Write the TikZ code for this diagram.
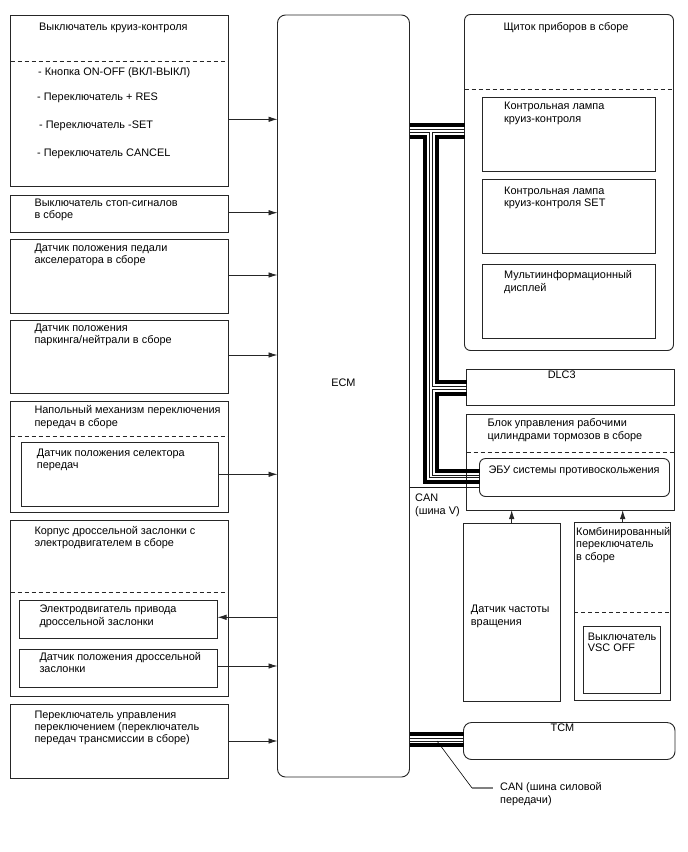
\documentclass[tikz,border=0pt]{standalone}
\usepackage{fontspec}
\setmainfont{Liberation Sans}
\usetikzlibrary{arrows.meta}
\newcommand\mlines[1]{\begin{tabular}[t]{@{}l@{}}#1\end{tabular}}
\begin{document}
\begin{tikzpicture}[x=1pt,y=-1pt,
  box/.style={draw=black!85, line width=0.9pt, inner sep=0pt, outer sep=0pt, anchor=north west},
  rbox/.style={box, rounded corners=6pt},
  txt/.style={anchor=base west, inner sep=0pt, font=\fontsize{10.9}{12.7}\selectfont},
  ctxt/.style={txt, anchor=base},
  arr/.style={-{Latex[length=9pt,width=5.5pt]}, line width=0.8pt, draw=black!85},
  dashline/.style={dash pattern=on 4pt off 3pt, line width=0.9pt, draw=black!85},
  busblk/.style={line width=4pt, draw=black},
  busthin/.style={line width=0.6pt, draw=black!90},
]
\useasboundingbox[fill=white] (0,0) rectangle (688,852);

% ---------- left column ----------
\node[box, minimum width=218pt, minimum height=171pt] (b1) at (10.5,15) {};
\draw[dashline] (b1.west |- 0,61.5) -- (b1.east |- 0,61.5);
\node[txt] (b1t) at (39,30.2) {Выключатель круиз-контроля};
\node[txt] (b1a) at (38,75.2) {- Кнопка ON-OFF (ВКЛ-ВЫКЛ)};
\node[txt] (b1b) at (37,100.2) {- Переключатель + RES};
\node[txt] (b1c) at (39,128.5) {- Переключатель -SET};
\node[txt] (b1d) at (37,156.8) {- Переключатель CANCEL};

\node[box, minimum width=218pt, minimum height=37pt] (b2) at (10.5,195) {};
\node[txt] (b2t) at (34.3,206.2) {\mlines{Выключатель стоп-сигналов\\в сборе}};

\node[box, minimum width=218pt, minimum height=73.5pt] (b3) at (10.5,239.5) {};
\node[txt] (b3t) at (34.3,251.2) {\mlines{Датчик положения педали\\акселератора в сборе}};

\node[box, minimum width=218pt, minimum height=73.5pt] (b4) at (10.5,320) {};
\node[txt] (b4t) at (34.3,331.2) {\mlines{Датчик положения\\паркинга/нейтрали в сборе}};

\node[box, minimum width=218pt, minimum height=111pt] (b5) at (10.5,401.5) {};
\draw[dashline] (b5.west |- 0,436.5) -- (b5.east |- 0,436.5);
\node[txt] (b5t) at (34.3,413.5) {\mlines{Напольный механизм переключения\\передач в сборе}};
\node[box, minimum width=196.5pt, minimum height=64pt] (b5i) at (21.5,442.5) {};
\node[txt] (b5it) at (36.7,456.2) {\mlines{Датчик положения селектора\\передач}};

\node[box, minimum width=218pt, minimum height=176.5pt] (b6) at (10.5,520) {};
\draw[dashline] (b6.west |- 0,592.5) -- (b6.east |- 0,592.5);
\node[txt] (b6t) at (34.3,534.2) {\mlines{Корпус дроссельной заслонки с\\электродвигателем в сборе}};
\node[box, minimum width=198.5pt, minimum height=38pt] (b6a) at (19,600) {};
\node[txt] (b6at) at (39.3,612.8) {\mlines{Электродвигатель привода\\дроссельной заслонки}};
\node[box, minimum width=198.5pt, minimum height=37.5pt] (b6b) at (19,649.5) {};
\node[txt] (b6bt) at (39.3,660.2) {\mlines{Датчик положения дроссельной\\заслонки}};

\node[box, minimum width=218pt, minimum height=73.5pt] (b7) at (10.5,704.5) {};
\node[txt, font=\fontsize{10.9}{12}\selectfont] (b7t) at (34.3,718.5) {\mlines{Переключатель управления\\переключением (переключатель\\передач трансмиссии в сборе)}};

% ---------- ECM ----------
\node[rbox, rounded corners=8pt, minimum width=132pt, minimum height=762pt] (ecm) at (277.5,15) {};
\node[ctxt] (ecmt) at (343.4,386) {ECM};

% ---------- right column ----------
\node[rbox, minimum width=209pt, minimum height=336pt] (cluster) at (464.5,14.5) {};
\node[txt] (clt) at (503.3,30.2) {Щиток приборов в сборе};
\draw[dashline] (cluster.west |- 0,89.5) -- (cluster.east |- 0,89.5);
\node[box, minimum width=172.5pt, minimum height=74pt] (ca) at (482.5,97.5) {};
\node[txt] (cat) at (504,109.5) {\mlines{Контрольная лампа\\круиз-контроля}};
\node[box, minimum width=172.5pt, minimum height=73.5pt] (cb) at (482.5,179.5) {};
\node[txt] (cbt) at (504,194.2) {\mlines{Контрольная лампа\\круиз-контроля SET}};
\node[box, minimum width=172.5pt, minimum height=74pt] (cc) at (482.5,264) {};
\node[txt] (cct) at (504,278.5) {\mlines{Мультиинформационный\\дисплей}};

\node[box, minimum width=208pt, minimum height=36pt] (dlc) at (466.5,369.5) {};
\node[ctxt] (dlct) at (561.7,378.5) {DLC3};

\node[box, minimum width=208pt, minimum height=96pt] (brake) at (466.5,414) {};
\node[txt] (brt) at (487.3,426.8) {\mlines{Блок управления рабочими\\цилиндрами тормозов в сборе}};
\draw[dashline] (brake.west |- 0,452.5) -- (brake.east |- 0,452.5);
\node[rbox, minimum width=190pt, minimum height=38pt] (ecu) at (479.5,458.5) {};
\node[txt] (ecut) at (488.3,473.5) {ЭБУ системы противоскольжения};

\node[box, minimum width=97pt, minimum height=178.5pt] (spd) at (463.5,523) {};
\node[txt] (spdt) at (470.7,612.8) {\mlines{Датчик частоты\\вращения}};

\node[box, minimum width=96.5pt, minimum height=178pt] (comb) at (574,522) {};
\node[txt, font=\fontsize{10.9}{12.5}\selectfont] (combt) at (576,535.2) {\mlines{Комбинированный\\переключатель\\в сборе}};
\draw[dashline] (comb.west |- 0,612.5) -- (comb.east |- 0,612.5);
\node[box, minimum width=77pt, minimum height=67pt] (vsc) at (583.5,626) {};
\node[txt, font=\fontsize{10.9}{11.5}\selectfont] (vsct) at (587.7,640.2) {\mlines{Выключатель\\VSC OFF}};

\node[rbox, rounded corners=8pt, minimum width=211.5pt, minimum height=37pt] (tcm) at (463.5,722.5) {};
\node[ctxt] (tcmt) at (562.5,731.8) {TCM};

% ---------- arrows ----------
\draw[arr] (b1.east |- 0,119.3) -- (ecm.west |- 0,119.3);
\draw[arr] (b2.east |- 0,212.7) -- (ecm.west |- 0,212.7);
\draw[arr] (b3.east |- 0,275) -- (ecm.west |- 0,275);
\draw[arr] (b4.east |- 0,355) -- (ecm.west |- 0,355);
\draw[arr] (b5i.east |- 0,474.3) -- (ecm.west |- 0,474.3);
\draw[arr] (ecm.west |- 0,617.3) -- (b6a.east |- 0,617.3);
\draw[arr] (b6b.east |- 0,666) -- (ecm.west |- 0,666);
\draw[arr] (b7.east |- 0,741) -- (ecm.west |- 0,741);
\draw[arr] (spd.north -| 511.7,0) -- (brake.south -| 511.7,0);
\draw[arr] (comb.north -| 622.7,0) -- (brake.south -| 622.7,0);

% ---------- CAN V bus ----------
\draw[busblk] (ecm.east |- 0,125) -- (cluster.west |- 0,125);
\draw[busthin] (ecm.east |- 0,129.5) -- (cluster.west |- 0,129.5);
\draw[busthin] (cluster.west |- 0,132) -| (432,386.5) -- (dlc.west |- 0,386.5);
\draw[busblk] (cluster.west |- 0,136.5) -| (436.5,382) -- (dlc.west |- 0,382);
\draw[busthin] (ecm.east |- 0,132) -| (429.5,477.5) -- (ecu.west |- 0,477.5);
\draw[busblk] (ecm.east |- 0,136.5) -| (425,482) -- (ecu.west |- 0,482);
\draw[busthin] (dlc.west |- 0,389) -| (432,475) -- (ecu.west |- 0,475);
\draw[busblk] (dlc.west |- 0,393.5) -| (436.5,470.5) -- (ecu.west |- 0,470.5);
\draw[busthin] (ecm.east |- 0,487.5) -- (ecu.west |- 0,487.5);
\node[txt] (canv) at (415,501.8) {\mlines{CAN\\(шина V)}};

% ---------- CAN power-train bus ----------
\draw[busblk] (ecm.east |- 0,733.7) -- (tcm.west |- 0,733.7);
\draw[busthin] (ecm.east |- 0,738.5) -- (tcm.west |- 0,738.5);
\draw[busthin] (ecm.east |- 0,741) -- (tcm.west |- 0,741);
\draw[busblk] (ecm.east |- 0,745.3) -- (tcm.west |- 0,745.3);
\node[txt] (canp) at (500,790.8) {\mlines{CAN (шина силовой\\передачи)}};
\coordinate (lp) at (437,741);
\coordinate (lk) at (472,788);
\draw[line width=0.6pt] (lp) -- (lk);
\draw[line width=1.2pt, draw=black!50] (lk) -- ([xshift=-7pt]canp.west |- lk);
\end{tikzpicture}
\end{document}
